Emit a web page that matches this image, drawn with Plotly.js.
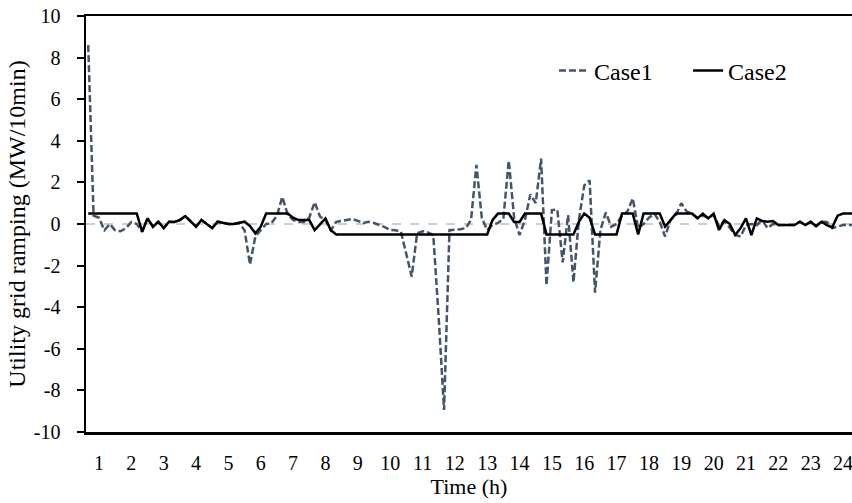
<!DOCTYPE html>
<html>
<head>
<meta charset="utf-8">
<script src="https://cdn.plot.ly/plotly-3.0.1.min.js"></script>
<style>html,body{margin:0;padding:0;background:#fff;}#chart{width:852px;height:503px;}</style>
</head>
<body>
<div id="chart"></div>
<script>
// 10-minute steps, 144 per day; hour tick labels
const hourTicks = [1,2,3,4,5,6,7,8,9,10,11,12,13,14,15,16,17,18,19,20,21,22,23,24];
const yTicks = [-10,-8,-6,-4,-2,0,2,4,6,8,10];
const yTickText = ['-10','-8','-6','-4','-2','0','2','4','6','8','10'];
const stepsPerHour = 6;
const firstStepHour = 2/3;

const case1 = [
  8.6,0.4,0.3,-0.3,0.0,-0.3,-0.35,-0.2,0.1,0.0,-0.37,0.27,
  -0.13,0.11,-0.2,0.11,0.1,0.19,0.38,0.1,-0.13,0.19,0.0,-0.2,
  0.11,0.05,0.0,0.0,0.05,-0.3,-1.95,-0.6,-0.3,0.0,0.05,0.4,
  1.3,0.45,0.2,0.1,0.1,0.3,1.05,0.35,0.2,-0.3,0.1,0.15,
  0.2,0.24,0.15,0.05,0.11,0.05,-0.05,-0.15,-0.29,-0.3,-0.37,-1.4,
  -2.53,-0.45,-0.35,-0.4,-0.53,-4.5,-8.94,-0.3,-0.29,-0.25,-0.2,0.19,
  2.84,0.3,-0.29,-0.05,0.05,0.25,3.05,0.3,-0.53,0.2,1.42,1.0,
  3.15,-2.95,0.67,0.7,-1.85,0.43,-2.8,0.19,1.85,2.1,-3.3,-0.29,
  0.55,-0.13,0.0,0.4,0.6,1.23,-0.2,0.0,0.3,0.5,0.1,-0.6,
  0.2,0.43,1.0,0.6,0.5,0.3,0.4,0.3,0.45,-0.1,0.15,-0.2,
  -0.53,-0.6,-0.05,0.0,-0.05,0.19,-0.2,0.0,-0.05,-0.05,-0.05,-0.05,
  0.11,-0.05,0.11,-0.1,0.11,0.1,-0.2,-0.13,-0.05,-0.05,-0.05,-0.05
];

const case2 = [
  0.5,0.5,0.5,0.5,0.5,0.5,0.5,0.5,0.5,0.5,-0.37,0.27,
  -0.13,0.11,-0.2,0.11,0.1,0.19,0.38,0.1,-0.13,0.19,0.0,-0.2,
  0.11,0.05,0.0,0.0,0.05,0.11,-0.1,-0.45,-0.13,0.5,0.5,0.5,
  0.5,0.5,0.3,0.19,0.19,0.19,-0.29,0.0,0.27,-0.3,-0.5,-0.5,
  -0.5,-0.5,-0.5,-0.5,-0.5,-0.5,-0.5,-0.5,-0.5,-0.5,-0.5,-0.5,
  -0.5,-0.5,-0.5,-0.5,-0.5,-0.5,-0.5,-0.5,-0.5,-0.5,-0.5,-0.5,
  -0.5,-0.5,-0.5,0.2,0.5,0.5,0.5,0.1,0.1,0.5,0.5,0.5,
  0.5,-0.5,-0.5,-0.5,-0.5,-0.5,-0.5,0.1,0.5,0.3,-0.5,-0.5,
  -0.5,-0.5,-0.5,0.5,0.5,0.5,-0.5,0.5,0.5,0.5,0.5,-0.13,
  0.2,0.5,0.5,0.5,0.5,0.27,0.5,0.27,0.5,-0.29,0.19,0.0,
  -0.53,-0.2,0.27,-0.53,0.27,0.15,0.11,0.14,-0.05,-0.05,-0.05,-0.05,
  0.11,-0.05,0.11,-0.1,0.11,-0.05,-0.16,0.4,0.5,0.5,0.5,0.5
];

const timeH = case1.map((_, i) => firstStepHour + i / stepsPerHour);

const FONT = 'Liberation Serif, Times New Roman, serif';

const traces = [
  {x: timeH, y: case1, name: 'Case1', type: 'scatter', mode: 'lines', legend: 'legend',
   line: {color: '#44546A', width: 2.5, dash: '7px,3px'}},
  {x: timeH, y: case2, name: 'Case2', type: 'scatter', mode: 'lines', legend: 'legend2',
   line: {color: '#000000', width: 2.5}}
];

const legendFont = {family: FONT, size: 24, color: '#000'};

const layout = {
  width: 852, height: 503,
  margin: {l: 86, r: 0, t: 16, b: 71, pad: 0},
  paper_bgcolor: '#fff', plot_bgcolor: '#fff',
  font: {family: FONT, color: '#000', size: 20},
  showlegend: true,
  legend: {orientation: 'h', x: 0.611, xanchor: 'left', y: 0.868, yanchor: 'middle',
           font: legendFont, bgcolor: 'rgba(0,0,0,0)'},
  legend2: {orientation: 'h', x: 0.786, xanchor: 'left', y: 0.868, yanchor: 'middle',
           font: legendFont, bgcolor: 'rgba(0,0,0,0)'},
  xaxis: {
    range: [0.598, 24.277], tickmode: 'array', tickvals: hourTicks,
    ticktext: hourTicks.map(String), ticks: '', showgrid: false, zeroline: false,
    showline: true, mirror: true, linecolor: '#000', linewidth: 2.5,
    tickfont: {family: FONT, size: 20, color: '#000'}, ticklabelstandoff: 11,
    ticklabeloverflow: 'allow',
    automargin: false,
    title: {text: 'Time (h)', font: {family: FONT, size: 22, color: '#000'}, standoff: 6}
  },
  yaxis: {
    range: [-10, 10], tickmode: 'array', tickvals: yTicks, ticktext: yTickText,
    ticks: 'outside', ticklen: 7, tickwidth: 2,
    tickcolor: '#000', showgrid: false, zeroline: false,
    showline: true, linecolor: '#000', linewidth: 2.5,
    tickfont: {family: FONT, size: 20, color: '#000'}, ticklabelstandoff: 12,
    automargin: false,
    title: {text: 'Utility grid ramping (MW/10min)', font: {family: FONT, size: 24, color: '#000'}, standoff: 2}
  },
  shapes: [{type: 'line', xref: 'paper', x0: 0, x1: 1, yref: 'y', y0: 0, y1: 0,
            line: {color: '#BFBFBF', width: 1.5, dash: 'dash'}, layer: 'below'}]
};

Plotly.newPlot('chart', traces, layout, {staticPlot: true, displayModeBar: false});
</script>
</body>
</html>
